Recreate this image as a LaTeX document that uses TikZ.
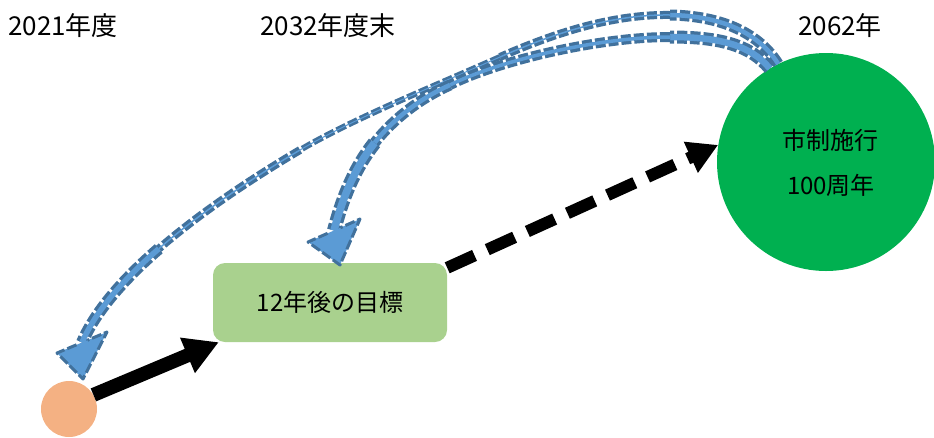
\documentclass[tikz,border=0pt]{standalone}
\usepackage{fontspec}
\setmainfont{Noto Sans CJK JP}
\usetikzlibrary{arrows.meta,calc}
\definecolor{orng}{HTML}{F4B183}
\definecolor{boxg}{HTML}{A9D18E}
\definecolor{circg}{HTML}{00B050}
\definecolor{bfill}{HTML}{5B9BD5}
\definecolor{bdark}{HTML}{41719C}
\begin{document}
\begin{tikzpicture}[x=1pt,y=-1pt,
  lbl/.style={font=\fontsize{26}{30}\selectfont, inner sep=0pt, anchor=base west},
  txt/.style={font=\fontsize{24}{28}\selectfont, inner sep=0pt},
  bshaft/.style={draw=bfill, line width={max(#1-6.5,1)*1pt},
    preaction={draw=bdark, line width={#1*1pt}, dash pattern=on 10pt off 3pt}},
  bhead/.style={draw=bdark, line width=3pt, dash pattern=on 10pt off 3pt, line join=round},
  bheadfill/.style={fill=bfill},
  solidarrow/.style={line width=14pt, -{Triangle[length=34pt,width=36pt]}},
  dasharrow/.style={line width=12pt, dash pattern=on 30pt off 14pt, -{Triangle[length=30pt,width=32pt]}},
]
\useasboundingbox (0,0) rectangle (934,437);

% labels
\node[lbl] (l1) at (8,35) {2021年度};
\node[lbl] (l2) at (260,35) {2032年度末};
\node[lbl] (l3) at (798,35) {2062年};

% shapes
\node[circle, fill=orng, minimum size=56pt, inner sep=0pt] (o) at (69,409) {};
\node[txt, fill=boxg, rounded corners=12pt, minimum width=234pt, minimum height=79pt] (b) at (330,302.5) {12年後の目標};
\node[circle, fill=circg, minimum size=218pt, inner sep=0pt] (g) at (826,162) {};
\node[txt] (g1) at (830,140) {市制施行};
\node[txt] (g2) at (831,185) {100周年};

% black arrows
\draw[solidarrow] (o.30) -- ([xshift=6pt]b.south west);
\draw[dasharrow] ([yshift=-5pt]b.north east) -- (g.171);

% blue arrow 1 (to 2021)
\path[bshaft=11] (g.116) .. controls (760,35) and (725,16) .. (670,15);
\path[bshaft=8] (670,15) .. controls (610,14) and (550,35) .. (500,57);
\path[bshaft=6] (500,57) .. controls (430,88) and (355,118) .. (300,150);
\path[bshaft=8] (300,150) .. controls (245,182.5) and (196.25,216.25) .. (158.75,248.75);
\path[bshaft=12] (158.75,248.75) .. controls (121.25,281.25) and (95,312.5) .. (82,342.5);
\coordinate (h1l) at (57,353);
\coordinate (h1r) at (107,332);
\coordinate (h1t) at (83,379);
\coordinate (h1a) at (76.5,344.8);
\coordinate (h1b) at (87.5,340.2);
\fill[bheadfill] (h1l) -- (h1t) -- (h1r) -- cycle;
\draw[bhead] (h1a) -- (h1l) -- (h1t) -- (h1r) -- (h1b);

% blue arrow 2 (to 2032)
\path[bshaft=13] (g.121) .. controls (750,45) and (720,37) .. (670,37);
\path[bshaft=10] (670,37) .. controls (600,37) and (500,60) .. (450,85);
\path[bshaft=11] (450,85) .. controls (420,98.5) and (393.75,118.5) .. (374.5,142.9);
\path[bshaft=14] (374.5,142.9) .. controls (355.25,167.25) and (343,196) .. (334,230.5);
\coordinate (h2l) at (308,242);
\coordinate (h2r) at (360,219);
\coordinate (h2t) at (340,265);
\coordinate (h2a) at (327.6,233.3);
\coordinate (h2b) at (340.4,227.7);
\fill[bheadfill] (h2l) -- (h2t) -- (h2r) -- cycle;
\draw[bhead] (h2a) -- (h2l) -- (h2t) -- (h2r) -- (h2b);
\end{tikzpicture}
\end{document}
